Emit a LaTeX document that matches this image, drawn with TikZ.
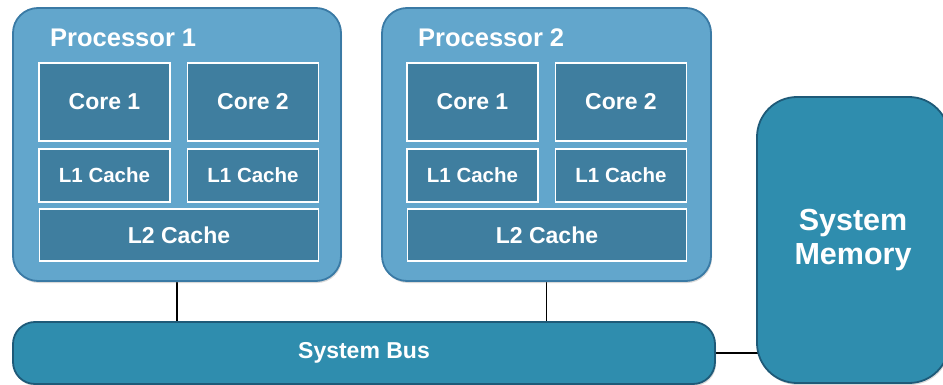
\documentclass[tikz,border=0pt]{standalone}
\usepackage{fontspec}
\setmainfont{Liberation Sans}
\usetikzlibrary{shadows,backgrounds}
\definecolor{procfill}{HTML}{62A6CC}
\definecolor{procdraw}{HTML}{3A7AA5}
\definecolor{innerfill}{HTML}{3F7E9F}
\definecolor{tealfill}{HTML}{2F8DAE}
\definecolor{tealdraw}{HTML}{1E5A78}
\tikzset{
  procbox/.style={draw=procdraw, line width=1.8pt, fill=procfill, rounded corners=25pt,
    drop shadow={opacity=0.3, shadow xshift=1pt, shadow yshift=-2pt}},
  innerbox/.style={draw=white, line width=1.5pt, fill=innerfill, text=white,
    font=\bfseries\fontsize{23}{25}\selectfont},
  l1box/.style={innerbox, font=\bfseries\fontsize{20.5}{22}\selectfont},
  titletext/.style={text=white, font=\bfseries\fontsize{25.5}{28}\selectfont, anchor=west, inner sep=0pt},
  tealbox/.style={draw=tealdraw, line width=1.8pt, fill=tealfill, text=white,
    drop shadow={opacity=0.3, shadow xshift=1pt, shadow yshift=-2pt}},
  wire/.style={draw=black, line width=1.5pt}
}
\begin{document}
\begin{tikzpicture}[x=1pt,y=-1pt]
\useasboundingbox (0,0) rectangle (943,385);
\clip (0,0) rectangle (943,385);
% Processor 1
\node[procbox, minimum width=328pt, minimum height=273pt] (p1) at (177,144.5) {};
\node[titletext] (p1t) at (50,38) {Processor 1};
\node[innerbox, minimum width=131pt, minimum height=78pt] (p1c1) at (104.5,102) {Core 1};
\node[innerbox, minimum width=131pt, minimum height=78pt] (p1c2) at (253,102) {Core 2};
\node[l1box, minimum width=131pt, minimum height=53pt] (p1l1a) at (104.5,175.5) {L1 Cache};
\node[l1box, minimum width=131pt, minimum height=53pt] (p1l1b) at (253,175.5) {L1 Cache};
\node[innerbox, minimum width=279pt, minimum height=52pt] (p1l2) at (179,235) {L2 Cache};
% Processor 2
\node[procbox, minimum width=329pt, minimum height=273pt] (p2) at (546.5,144.5) {};
\node[titletext] (p2t) at (418,38) {Processor 2};
\node[innerbox, minimum width=131pt, minimum height=78pt] (p2c1) at (472.5,102) {Core 1};
\node[innerbox, minimum width=131pt, minimum height=78pt] (p2c2) at (621,102) {Core 2};
\node[l1box, minimum width=131pt, minimum height=53pt] (p2l1a) at (472.5,175.5) {L1 Cache};
\node[l1box, minimum width=131pt, minimum height=53pt] (p2l1b) at (621,175.5) {L1 Cache};
\node[innerbox, minimum width=279pt, minimum height=52pt] (p2l2) at (547,235) {L2 Cache};
% System Memory
\node[tealbox, rounded corners=40pt, minimum width=192pt, minimum height=286pt, align=center,
  font=\bfseries\fontsize{30.5}{34}\selectfont] (mem) at (853,240) {System\\Memory};
% System Bus
\node[tealbox, rounded corners=22pt, minimum width=702pt, minimum height=62pt,
  font=\bfseries\fontsize{23}{25}\selectfont] (bus) at (364,353) {System Bus};
% Connectors
\begin{pgfonlayer}{background}
\draw[wire] (p1.south) -- (p1.south |- bus.north);
\draw[wire] (p2.south) -- (p2.south |- bus.north);
\draw[wire] (bus.east) -- (bus.east -| mem.center);
\end{pgfonlayer}
\end{tikzpicture}
\end{document}
